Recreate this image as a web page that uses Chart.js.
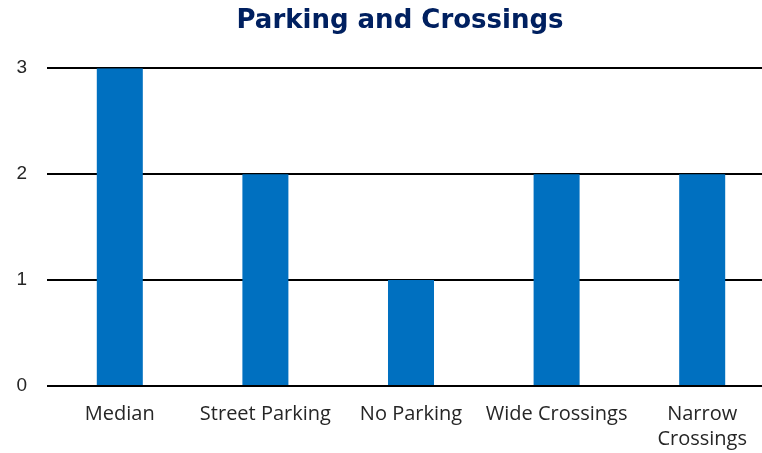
<!DOCTYPE html>
<html>
<head>
<meta charset="utf-8">
<script src="https://cdn.jsdelivr.net/npm/chart.js@4"></script>
<style>
  html, body { margin: 0; padding: 0; background: #fff; overflow: hidden; }
  #wrap { width: 806px; height: 453px; }
</style>
</head>
<body>
<div id="wrap"><canvas id="parkingChart" width="806" height="453"></canvas></div>
<script>
const categories = ["Median", "Street Parking", "No Parking", "Wide Crossings", ["Narrow", "Crossings"]];
const counts = [3, 2, 1, 2, 2];
const yTicks = [0, 1, 2, 3];

const ctx = document.getElementById("parkingChart").getContext("2d");

const chart = new Chart(ctx, {
    type: 'bar',
    data: {
        labels: categories,
        datasets: [{
            label: 'Count',
            data: counts,
            backgroundColor: '#0070C0',
            borderWidth: 0,
            categoryPercentage: 1,
            barPercentage: 0.316
        }]
    },
    options: {
        responsive: false,
        animation: false,
        devicePixelRatio: 1,
        layout: {
            padding: { left: 0, right: 6, top: 0, bottom: 0 }
        },
        plugins: {
            legend: { display: false },
            tooltip: { enabled: false },
            title: {
                display: true,
                text: 'Parking and Crossings',
                color: '#002060',
                font: { family: 'DejaVu Sans', size: 26, weight: 'bold' },
                padding: { top: 6, bottom: 31 }
            }
        },
        scales: {
            x: {
                grid: { display: false, drawTicks: false },
                border: { display: false },
                afterFit: axis => { axis.height = 67; },
                ticks: {
                    color: '#262626',
                    font: { family: 'Open Sans', size: 20, lineHeight: 1.25 },
                    padding: 16,
                    maxRotation: 0,
                    autoSkip: false
                }
            },
            y: {
                min: 0,
                max: 3,
                afterBuildTicks: axis => {
                    axis.ticks = yTicks.map(v => ({ value: v }));
                },
                afterFit: axis => { axis.width = 47; },
                grid: {
                    color: '#000',
                    lineWidth: 2,
                    drawTicks: false
                },
                border: { display: false },
                ticks: {
                    color: '#262626',
                    font: { family: 'Liberation Sans', size: 19 },
                    padding: 20
                }
            },
            // empty right-hand spacer so the plot runs past the window edge
            spacer: {
                type: 'linear',
                position: 'right',
                grid: { display: false, drawTicks: false },
                border: { display: false },
                ticks: { display: false },
                afterFit: axis => { axis.width = 25; }
            }
        }
    }
});
</script>
</body>
</html>
